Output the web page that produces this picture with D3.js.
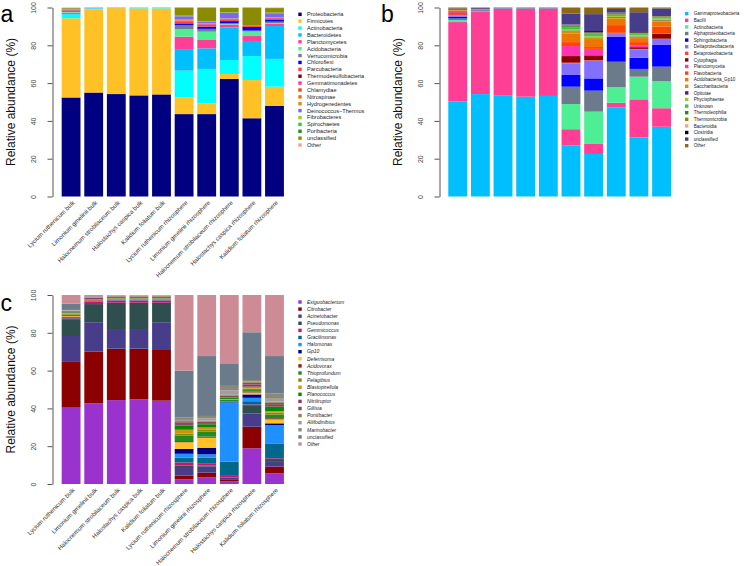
<!DOCTYPE html>
<html><head><meta charset="utf-8">
<script src="https://cdn.jsdelivr.net/npm/d3@7"></script>
<style>body{margin:0;background:#fff}svg{display:block}text{font-family:"Liberation Sans",Arial,sans-serif}</style>
</head><body><svg id="chart" width="746" height="566"></svg>
<script>
const samples = ["Lycium ruthenicum bulk","Limonium gmelinii bulk","Halocnemum strobilaceum bulk","Halostachys caspica bulk","Kalidium foliatum bulk","Lycium ruthenicum rhizosphere","Limonium gmelinii rhizosphere","Halocnemum strobilaceum rhizosphere","Halostachys caspica rhizosphere","Kalidium foliatum rhizosphere"];
const yTicks = [0,20,40,60,80,100];

// Panel a: phylum
const phyla = ["Proteobacteria","Firmicutes","Actinobacteria","Bacteroidetes","Planctomycetes","Acidobacteria","Verrucomicrobia","Chloroflexi","Parcubacteria","Thermodesulfobacteria","Gemmatimonadetes","Chlamydiae","Nitrospinae","Hydrogenedentes","Deinococcus\u2212Thermus","Fibrobacteres","Spirochaetes","Poribacteria","unclassified","Other"];
const phylumColors = ["#000080","#FFC125","#00FFFF","#00BFFF","#FF3E96","#4EEE94","#708090","#0000FF","#FF4040","#8B0000","#FF34B3","#FF4500","#EE7600","#CD950C","#7B68EE","#9ACD32","#32CD32","#228B22","#8B8B00","#FFA07A"];
const phylumValues = [
  [52.4,41.9,2.0,0.8,0.2,0.3,0.8,0.1,0.2,0.1,0.1,0.1,0.1,0.1,0.1,0,0,0,0.4,0.3],
  [55.0,44.0,0.5,0.1,0.1,0.1,0.1,0,0,0,0,0,0,0,0,0,0,0,0.1,0],
  [54.2,45.5,0.1,0.1,0,0,0,0,0,0,0,0,0,0,0,0,0,0,0.1,0],
  [53.5,46.0,0.2,0.1,0,0.1,0,0,0,0,0,0,0,0,0,0,0,0,0.1,0],
  [54.0,45.5,0.3,0.1,0,0,0,0,0,0,0,0,0,0,0,0,0,0,0.1,0],
  [43.6,8.9,14.1,11.4,6.6,4.0,2.0,1.0,0.9,0.2,0.3,0.2,0.2,0.2,1.8,0.1,0.1,0.1,4.3,0],
  [43.6,5.7,18.2,10.9,4.4,4.4,1.5,1.2,0.9,0.2,0.2,0.2,0.2,0.1,0.8,0.1,0.1,0.1,7.2,0],
  [62.2,2.6,7.4,17.3,1.5,0.3,0.5,1.0,0.5,0.3,0.2,0.2,0.1,0.1,3.0,0.1,0.1,0.1,2.3,0.2],
  [41.4,20.2,12.7,8.0,2.6,2.4,0.5,1.9,0.8,0,0,0,0,0,0,0,0,0,9.5,0],
  [48.0,10.1,14.7,17.4,1.2,0.3,0.8,0.9,0.7,0.2,0.2,0.2,0.1,0.1,2.1,0.1,0.1,0.1,2.4,0.3]
];

// Panel b: class
const classes = ["Gammaproteobacteria","Bacilli","Actinobacteria","Alphaproteobacteria","Sphingobacteria","Deltaproteobacteria","Betaproteobacteria","Cytophagia","Planctomycetia","Flavobacteria","Acidobacteria_Gp10","Saccharibacteria","Opitutae","Phycisphaerae","Unknown","Thermoleophilia","Thermomicrobia","Bacteroidia","Clostridia","unclassified","Other"];
const classColors = ["#00BFFF","#FF3E96","#4EEE94","#6C7B8B","#0000FF","#8470FF","#FF4040","#8B0000","#FF34B3","#FF4500","#EE7600","#CD950C","#551A8B","#9ACD32","#32CD32","#228B22","#8B8B00","#FFA07A","#000000","#483D8B","#8B6914"];
const classValues = [
  [50.2,42.1,1.1,0.8,1.0,0.7,1.2,0.3,0.2,0.5,0.4,0.2,0.3,0,0,0,0,0,0,0.5,0.5],
  [54.2,43.8,0.2,0.5,0.1,0.3,0.1,0,0,0,0,0,0.4,0,0,0,0,0,0,0.1,0.3],
  [53.3,45.9,0.1,0.2,0,0.1,0,0,0,0,0,0,0.2,0,0,0,0,0,0,0,0.2],
  [52.8,46.4,0.1,0.2,0,0.1,0,0,0,0,0,0,0.2,0,0,0,0,0,0,0,0.2],
  [53.2,46.0,0.1,0.2,0,0.1,0,0,0,0,0,0,0.2,0,0,0,0,0,0,0,0.2],
  [26.9,8.7,13.3,9.2,6.2,6.2,0.3,3.5,5.3,2.1,4.4,1.4,0.3,0.8,1.0,0.5,0.6,0.2,0.1,5.8,3.2],
  [22.5,5.3,17.1,11.1,6.5,9.4,0.2,2.6,3.4,1.0,4.2,0.6,0.2,0.6,1.0,0.5,0.5,0.1,0.7,9.0,3.5],
  [47.2,2.4,8.2,13.5,13.3,1.3,0.2,0.2,0.3,4.1,3.5,0.5,0.3,0.5,0.5,0.3,0.8,0.1,0.1,1.9,0.8],
  [31.3,20.1,12.0,4.1,5.9,4.5,0.2,0.9,0.9,1.8,2.1,0.5,0.3,0.6,0.6,0.4,0.4,0.1,0.7,10.1,2.5],
  [36.9,9.8,14.4,7.6,11.5,3.1,0.2,2.6,0.4,3.5,2.7,0.5,0.3,0.6,0.6,0.3,0.3,0.1,0.1,4.0,0.5]
];

// Panel c: genus
const genera = ["Exiguobacterium","Citrobacter","Acinetobacter","Pseudomonas","Gemmicoccus","Gracilimonas","Halomonas","Gp10","Deferrisoma","Acidovorax","Thioprofundum","Pelagibius","Blastopirellula","Planococcus","Nitriliruptor","Gillisia","Pontibacter","Aliifodinibius","Marinobacter","unclassified","Other"];
const genusColors = ["#9A32CD","#8B0000","#483D8B","#2F4F4F","#CD1076","#00688B","#1E90FF","#000080","#FFC125","#8B2323","#228B22","#8B8B00","#CD950C","#008B00","#8B3A62","#8B4C4C","#8B864E","#A09CA0","#8B8878","#6C7B8B","#CD8C95"];
const genusValues = [
  [40.4,24.2,13.7,8.5,0.8,0.3,0.2,0.3,0.4,0.5,0.3,0.6,0.3,0.3,0.5,0.2,0.2,0.2,0.2,3.3,4.6],
  [42.7,27.3,15.6,9.6,1.2,0.2,0.1,0.1,0.2,0.3,0.1,0.1,0.1,0.2,0.6,0.2,0.1,0.1,0.1,0.4,0.7],
  [44.4,27.2,10.4,13.9,1.2,0.2,0.1,0.1,0.2,0.3,0.1,0.1,0.1,0.2,0.6,0.2,0.1,0.1,0.1,0.2,0.2],
  [44.8,26.8,10.4,13.9,1.2,0.2,0.1,0.1,0.2,0.3,0.1,0.1,0.1,0.2,0.6,0.2,0.1,0.1,0.1,0.2,0.2],
  [44.1,26.8,14.7,10.3,1.2,0.2,0.1,0.1,0.2,0.3,0.1,0.1,0.1,0.2,0.6,0.2,0.1,0.1,0.1,0.2,0.2],
  [2.5,2.0,4.5,0.8,1.6,2.6,2.0,2.6,3.5,0.6,3.0,1.0,2.0,2.2,0.8,1.0,0.6,0.6,1.4,24.7,40.0],
  [3.5,2.5,3.2,0.6,1.2,2.9,1.8,3.5,5.3,0.6,2.6,1.2,1.0,1.7,0.6,0.8,0.5,1.2,1.3,31.7,32.3],
  [1.5,1.0,0.7,0.3,0.8,7.6,31.3,0.2,0.2,0.3,0.6,0.3,0.2,0.6,0.3,0.8,0.5,2.4,2.3,11.6,36.5],
  [18.9,11.4,7.1,3.9,0.8,1.7,1.8,1.8,1.0,0.5,0.8,0.8,0.6,0.4,1.2,0.9,0.4,0.5,0.5,25.3,19.7],
  [5.6,3.6,2.5,1.5,0.4,7.9,9.7,0.9,2.1,0.6,2.0,0.9,0.8,2.5,1.2,0.8,0.6,1.5,2.9,19.7,32.3]
];

const svg = d3.select("#chart");

function drawPanel(cfg) {
  const g = svg.append("g");
  const x = d3.scaleBand().domain(d3.range(samples.length)).range(cfg.xr)
    .paddingInner(1/6).paddingOuter(1/12);
  const y = d3.scaleLinear().domain([0,100]).range([cfg.y0, cfg.y1]);
  const keys = cfg.names.map((n,i)=>"k"+i);
  const rows = cfg.values.map((v,i)=>{const o={idx:i}; keys.forEach((k,j)=>o[k]=v[j]); return o;});
  const series = d3.stack().keys(keys)(rows);
  g.selectAll("g.layer").data(series).join("g").attr("class","layer")
    .attr("fill",(d,i)=>cfg.colors[i])
    .selectAll("rect").data(d=>d).join("rect")
    .attr("x",d=>x(d.data.idx)).attr("width",x.bandwidth())
    .attr("y",d=>y(d[1])).attr("height",d=>Math.max(0,y(d[0])-y(d[1])));

  // y axis
  const ax = g.append("g").attr("transform",`translate(${cfg.axisX},0)`)
    .call(d3.axisLeft(y).tickValues(yTicks).tickSize(5).tickSizeOuter(0));
  ax.select(".domain").attr("stroke","#555");
  ax.selectAll(".tick line").attr("stroke","#555");
  ax.selectAll(".tick text").attr("x",null).attr("dy",null)
    .attr("transform","translate(-16.5,0) rotate(-90)")
    .attr("text-anchor","middle").attr("font-size",7).attr("fill","#444")
    .attr("font-family","Liberation Sans, Arial, sans-serif");

  // y title
  g.append("text").attr("transform",`translate(${cfg.axisX-38},${(cfg.y0+cfg.y1)/2}) rotate(-90)`)
    .attr("text-anchor","middle").attr("font-size",12).attr("fill","#111")
    .text("Relative abundance (%)");

  // panel letter
  g.append("text").attr("x",cfg.letterX).attr("y",cfg.letterY).attr("font-size",23)
    .attr("fill","#000").text(cfg.letter);

  // x labels
  if (cfg.xlabels) {
    g.selectAll("text.xl").data(samples).join("text").attr("class","xl")
      .attr("transform",(d,i)=>`translate(${x(i)+x.bandwidth()/2+4},${cfg.y0+6.5}) rotate(-45)`)
      .attr("text-anchor","end").attr("font-size",6.1).attr("fill","#333").text(d=>d);
  }

  // legend
  const lg = g.append("g");
  cfg.names.forEach((n,i)=>{
    const ry = cfg.legY + i*cfg.legStep;
    lg.append("rect").attr("x",cfg.legX).attr("y",ry-1.7).attr("width",3.4).attr("height",3.4)
      .attr("fill",cfg.colors[i]);
    lg.append("text").attr("x",cfg.legX+8.7).attr("y",ry).attr("dy","0.35em")
      .attr("font-size",cfg.legFont).attr("fill","#222")
      .attr("font-style",cfg.italic ? "italic" : "normal")
      .text(n);
  });
}

drawPanel({letter:"a", letterX:0.5, letterY:21.5, names:phyla, colors:phylumColors, values:phylumValues,
  xr:[59.8,285.8], y0:196.5, y1:7.5, axisX:52.5, xlabels:true,
  legX:298.3, legY:14.3, legStep:6.88, legFont:5.6, italic:false});
drawPanel({letter:"b", letterX:381, letterY:21.5, names:classes, colors:classColors, values:classValues,
  xr:[446.4,672.9], y0:196.5, y1:7.5, axisX:439.5, xlabels:false,
  legX:685, legY:13.7, legStep:6.6, legFont:4.6, italic:false});
drawPanel({letter:"c", letterX:0.5, letterY:311, names:genera, colors:genusColors, values:genusValues,
  xr:[59.8,285.8], y0:484, y1:295, axisX:52.5, xlabels:true,
  legX:298.3, legY:302, legStep:7.1, legFont:5, italic:true});
</script></body></html>
